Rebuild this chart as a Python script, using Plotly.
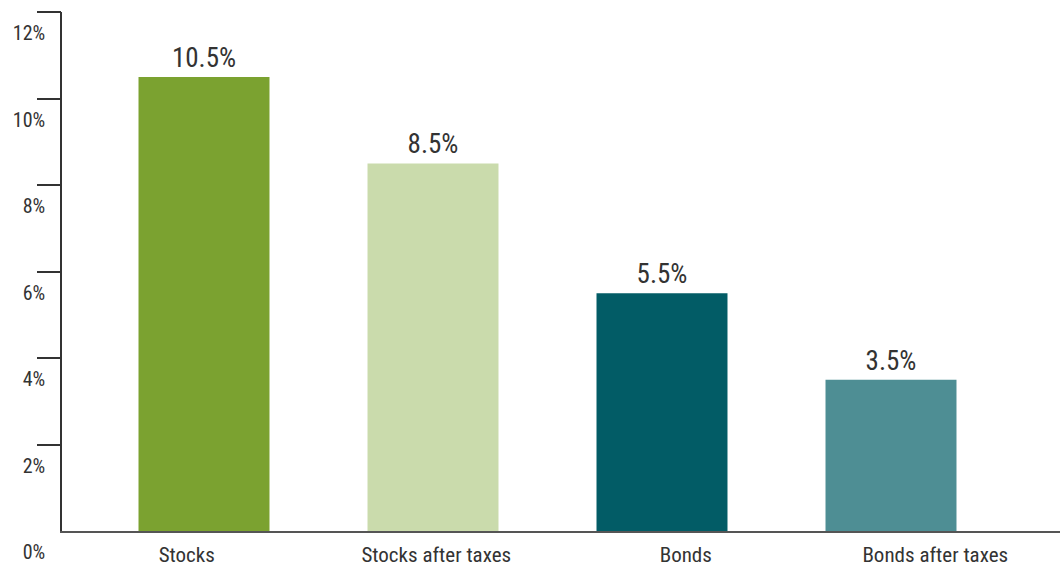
import plotly.graph_objects as go

categories = ["Stocks", "Stocks after taxes", "Bonds", "Bonds after taxes"]
values = [10.5, 8.5, 5.5, 3.5]
value_labels = ["10.5%", "8.5%", "5.5%", "3.5%"]
colors = ["#7BA230", "#CADBAC", "#025C66", "#4E8E94"]
y_ticks = [0, 2, 4, 6, 8, 10, 12]
y_tick_labels = ["0%", "2%", "4%", "6%", "8%", "10%", "12%"]
y_tick_marks = [2, 4, 6, 8, 10, 12]

FONT = "Roboto Condensed, DejaVu Sans Condensed, Liberation Sans Narrow, Arial Narrow, Roboto, sans-serif"
TXT = "#333333"

fig = go.Figure()
fig.add_trace(go.Bar(
    x=categories, y=values, xaxis="x2", yaxis="y",
    marker=dict(color=colors, line=dict(width=0)),
    width=0.572,
    text=value_labels, textposition="outside",
    textfont=dict(family=FONT, size=27, color=TXT),
    cliponaxis=False, hoverinfo="skip",
))
# invisible traces to carry the category labels and the y tick marks
fig.add_trace(go.Scatter(x=categories, y=[0]*4, xaxis="x", yaxis="y",
                         mode="markers", marker=dict(opacity=0), hoverinfo="skip"))
fig.add_trace(go.Scatter(x=categories, y=[0]*4, xaxis="x", yaxis="y2",
                         mode="markers", marker=dict(opacity=0), hoverinfo="skip"))

fig.update_layout(
    width=1060, height=566,
    margin=dict(l=62, r=0, t=12, b=35),
    paper_bgcolor="white", plot_bgcolor="rgba(0,0,0,0)",
    showlegend=False,
    xaxis=dict(
        type="category", categoryorder="array", categoryarray=categories,
        domain=[0, 1], range=[-0.5, 3.5], anchor="y",
        showline=True, linecolor="#555555", linewidth=1.5,
        showgrid=False, zeroline=False, ticks="",
        tickfont=dict(family=FONT, size=21, color=TXT),
        ticklabelstandoff=4,
    ),
    xaxis2=dict(
        type="category", categoryorder="array", categoryarray=categories,
        anchor="y",
        domain=[(89.5 - 62) / 998, (1005.5 - 62) / 998],
        range=[-0.5, 3.5], visible=False,
    ),
    yaxis=dict(
        range=[0, 12], tickvals=y_ticks, ticktext=y_tick_labels,
        anchor="x",
        showline=True, linecolor="#333333", linewidth=1.5,
        ticks="outside", ticklen=24, tickcolor="rgba(0,0,0,0)", tickwidth=1.5,
        showgrid=False, zeroline=False,
        tickfont=dict(family=FONT, size=20, color=TXT),
        ticklabelshift=21, ticklabelstandoff=-13,
    ),
    yaxis2=dict(
        range=[0, 12], tickvals=y_tick_marks, showticklabels=False,
        overlaying="y", anchor="x", side="left",
        showline=False, showgrid=False, zeroline=False,
        ticks="outside", ticklen=24, tickcolor="#333333", tickwidth=1.5,
    ),
)
fig.write_html(
    "out.html",
    config={"displayModeBar": False},
    post_script="document.body.style.margin='0';document.body.style.overflow='hidden';",
)
